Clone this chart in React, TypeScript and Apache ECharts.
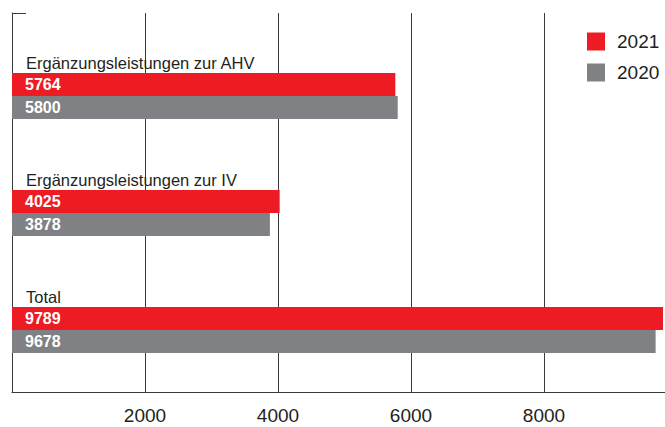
import { useEffect, useRef } from "react";
import * as echarts from "echarts";

const categories = ["Ergänzungsleistungen zur AHV", "Ergänzungsleistungen zur IV", "Total"];
const seriesNames = ["2021", "2020"];
const values2021 = [5764, 4025, 9789];
const values2020 = [5800, 3878, 9678];
const tickValues = [2000, 4000, 6000, 8000];

const RED = "#ED1C24";
const GRAY = "#808184";
const INK = "#231F20";
const LINE = "#3a3a3a";

export default function App() {
  const ref = useRef<HTMLDivElement>(null);
  useEffect(() => {
    const chart = echarts.init(ref.current!, null, { renderer: "svg" });
    const font = "'Liberation Sans', Arial, Helvetica, sans-serif";
    const dataMax = Math.max(...values2021, ...values2020);
    chart.setOption({
      animation: false,
      textStyle: { fontFamily: font },
      legend: {
        data: seriesNames,
        orient: "vertical",
        left: 587,
        top: 32,
        padding: 0,
        icon: "rect",
        itemWidth: 18,
        itemHeight: 18,
        itemGap: 12,
        textStyle: { fontSize: 19, color: INK, fontFamily: font, padding: [0, 0, 0, 7] },
      },
      grid: [
        { left: 12, width: 665, top: 13, bottom: 35, outerBoundsMode: "none" },
        { left: 12, right: 2, top: 37.5, bottom: 38.5, outerBoundsMode: "none" },
      ],
      xAxis: [
        {
          gridIndex: 0,
          type: "value",
          min: 0,
          max: 10000,
          interval: 2000,
          axisLine: { show: true, lineStyle: { color: LINE, width: 1 } },
          axisTick: { show: false },
          splitLine: { show: true, lineStyle: { color: LINE, width: 1 } },
          axisLabel: {
            formatter: (v: number) => (tickValues.includes(v) ? String(v) : ""),
            fontSize: 19,
            color: INK,
            margin: 14,
            fontFamily: font,
          },
        },
        { gridIndex: 1, type: "value", min: 0, max: dataMax, show: false },
      ],
      yAxis: [
        {
          gridIndex: 0,
          type: "value",
          min: 0,
          max: 1,
          interval: 1,
          axisLine: { show: true, lineStyle: { color: LINE, width: 1 } },
          axisTick: { show: true, inside: true, length: 14, lineStyle: { color: LINE, width: 1 } },
          axisLabel: { show: false },
          splitLine: { show: false },
        },
        {
          gridIndex: 1,
          type: "category",
          data: categories,
          inverse: true,
          z: 5,
          axisLine: { show: false },
          axisTick: { show: false },
          splitLine: { show: false },
          axisLabel: {
            inside: true,
            interval: 0,
            margin: 14,
            verticalAlign: "middle",
            formatter: (v: string) => `{t|${v}}\n{s| }`,
            rich: {
              t: { fontSize: 16.5, color: INK, fontFamily: font, height: 18, lineHeight: 18 },
              s: { fontSize: 10, height: 66, lineHeight: 66 },
            },
          },
        },
      ],
      series: [
        {
          name: seriesNames[0],
          type: "bar",
          xAxisIndex: 1,
          yAxisIndex: 1,
          data: values2021,
          barWidth: 23,
          barGap: "0%",
          itemStyle: { color: RED },
          label: {
            show: true,
            position: "insideLeft",
            distance: 13,
            color: "#fff",
            fontWeight: "bold",
            fontSize: 16,
            fontFamily: font,
          },
        },
        {
          name: seriesNames[1],
          type: "bar",
          xAxisIndex: 1,
          yAxisIndex: 1,
          data: values2020,
          barWidth: 23,
          barGap: "0%",
          itemStyle: { color: GRAY },
          label: {
            show: true,
            position: "insideLeft",
            distance: 13,
            color: "#fff",
            fontWeight: "bold",
            fontSize: 16,
            fontFamily: font,
          },
        },
      ],
    });
    return () => chart.dispose();
  }, []);
  return <div ref={ref} style={{ width: 665, height: 427, position: "absolute", left: 0, top: 0 }} />;
}
